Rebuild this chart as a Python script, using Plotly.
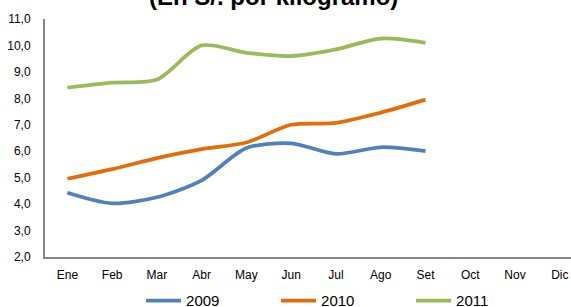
import plotly.graph_objects as go

months = ["Ene", "Feb", "Mar", "Abr", "May", "Jun", "Jul", "Ago", "Set", "Oct", "Nov", "Dic"]
s2009 = [4.43, 4.03, 4.26, 4.9, 6.12, 6.3, 5.9, 6.15, 6.0]
s2010 = [4.96, 5.32, 5.74, 6.08, 6.33, 7.0, 7.07, 7.46, 7.95]
s2011 = [8.4, 8.59, 8.71, 10.0, 9.72, 9.6, 9.85, 10.26, 10.1]
series = [("2009", s2009, "#4F81BD"), ("2010", s2010, "#E46C0A"), ("2011", s2011, "#9BBB59")]

fig = go.Figure()
for name, vals, col in series:
    fig.add_trace(go.Scatter(x=list(range(len(vals))), y=vals, name=name, mode="lines",
                             line=dict(color=col, width=3.75, shape="spline", smoothing=0.8)))

fig.update_layout(
    width=571, height=307,
    margin=dict(l=45, r=0, t=19, b=50, autoexpand=False),
    paper_bgcolor="white", plot_bgcolor="white",
    separators=",.",
    font=dict(family="Liberation Sans, Arial", color="#000000"),
    showlegend=True,
    legend=dict(orientation="h", x=0.1826, xanchor="left", y=-0.184, yanchor="middle",
                font=dict(size=15), itemwidth=35, entrywidth=85, entrywidthmode="pixels",
                traceorder="normal", bgcolor="rgba(0,0,0,0)"),
    xaxis=dict(tickmode="array", tickvals=list(range(12)), ticktext=months,
               range=[-0.5, 11.25], showgrid=False, zeroline=False, automargin=False,
               showline=True, linecolor="#868686", linewidth=2, ticks="",
               tickfont=dict(size=12), ticklabelstandoff=6),
    yaxis=dict(range=[2, 11], dtick=1, tickformat=".1f", showgrid=False, zeroline=False,
               automargin=False,
               showline=True, linecolor="#868686", linewidth=2, ticks="",
               tickfont=dict(size=12), ticklabelstandoff=10),
)
fig.add_annotation(text="<b>(En S/. por kilogramo)</b>", xref="paper", yref="paper",
                   x=0.435, y=1.0315, xanchor="center", yanchor="bottom", showarrow=False,
                   font=dict(size=24, family="Liberation Sans, Arial"))
fig.write_html("out.html", config={"displayModeBar": False},
               post_script="document.body.style.margin='0';document.body.style.overflow='hidden';")
